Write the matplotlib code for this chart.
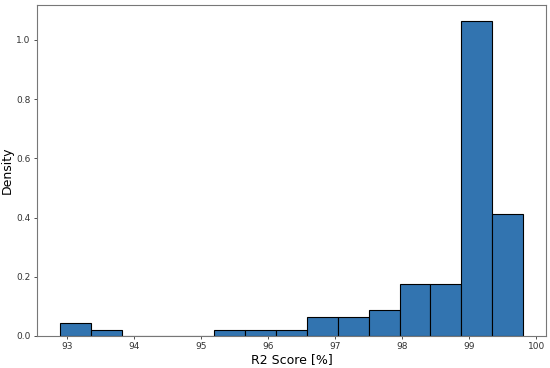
import numpy as np
import matplotlib
matplotlib.use("Agg")
import matplotlib.pyplot as plt

# bin edges of the R2 score histogram [%]
bin_start = 92.9
bin_end = 99.8
n_bins = 15
# number of runs falling in each bin
counts = [2, 1, 0, 0, 0, 1, 1, 1, 3, 3, 4, 8, 8, 49, 19]

edges = np.linspace(bin_start, bin_end, n_bins + 1)
centers = (edges[:-1] + edges[1:]) / 2

fig, ax = plt.subplots(figsize=(5.5, 3.68), dpi=100)
ax.hist(centers, bins=edges, weights=counts, density=True,
        color="#3274b0", edgecolor="black", linewidth=0.8)

ax.set_xlabel("R2 Score [%]", fontsize=9, labelpad=1.5)
ax.set_ylabel("Density", fontsize=9, labelpad=2)
ax.tick_params(labelsize=6.5, length=2.5, width=0.6, pad=2, colors="#333333")
for s in ax.spines.values():
    s.set_color("#777777")
    s.set_linewidth(0.8)

fig.subplots_adjust(left=0.067, right=0.993, top=0.987, bottom=0.087)
fig.savefig("out.png", dpi=100)
